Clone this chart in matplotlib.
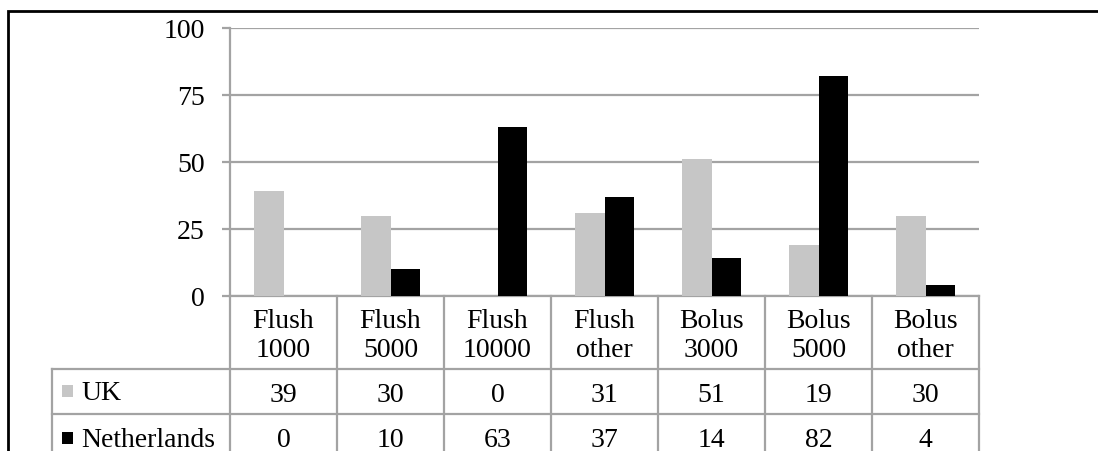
import matplotlib
matplotlib.use('Agg')
import matplotlib.pyplot as plt
import matplotlib.transforms as mtransforms
from matplotlib.lines import Line2D
from matplotlib.patches import Rectangle
import numpy as np

plt.rcParams['font.family'] = ['Liberation Serif', 'DejaVu Serif']

# data
categories = ['Flush\n1000', 'Flush\n5000', 'Flush\n10000', 'Flush\nother',
              'Bolus\n3000', 'Bolus\n5000', 'Bolus\nother']
series_names = ['UK', 'Netherlands']
uk_values = [39, 30, 0, 31, 51, 19, 30]
nl_values = [0, 10, 63, 37, 14, 82, 4]
y_ticks = [0, 25, 50, 75, 100]

W, H = 1098, 452
UK_COLOR = '#c6c6c6'
NL_COLOR = '#000000'
GRID = '#a3a3a3'
FS = 20

fig = plt.figure(figsize=(W / 100, H / 100), dpi=100)
fig.patch.set_facecolor('white')

def fy(px):
    return 1 - px / H

def fx(px):
    return px / W

# plot area in pixels
left, right, top, bottom = 230, 979, 29, 297
ax = fig.add_axes([fx(left), fy(bottom), (right - left) / W, (bottom - top) / H])

x = np.arange(len(categories))
bw = 0.28
ax.bar(x - bw / 2, uk_values, bw, color=UK_COLOR, zorder=3)
ax.bar(x + bw / 2, nl_values, bw, color=NL_COLOR, zorder=3)

ax.set_xlim(-0.5, len(categories) - 0.5)
ax.set_ylim(0, 100)
ax.set_yticks(y_ticks)
ax.set_yticklabels([str(t) for t in y_ticks], fontsize=FS)
ax.set_xticks([])
ax.yaxis.grid(True, color=GRID, linewidth=1.6, zorder=0)
ax.set_axisbelow(True)
for s in ['top', 'right']:
    ax.spines[s].set_visible(False)
ax.spines['left'].set_color(GRID)
ax.spines['left'].set_linewidth(1.6)
ax.spines['bottom'].set_color(GRID)
ax.spines['bottom'].set_linewidth(1.6)
ax.tick_params(axis='y', length=6, width=1.6, color=GRID, pad=12)

# data table below the plot
tr = mtransforms.blended_transform_factory(ax.transData, fig.transFigure)
row1, row2, row3 = 370, 415, 470
hdr_left = 52

def fline(xs, ys, transform):
    fig.add_artist(Line2D(xs, ys, color=GRID, linewidth=1.6, transform=transform,
                          clip_on=False))

for k in range(len(categories) + 1):
    xb = k - 0.5
    fline([xb, xb], [fy(bottom), fy(row3)], tr)
for yr in (row1, row2):
    fline([fx(hdr_left), fx(right)], [fy(yr), fy(yr)], fig.transFigure)
fline([fx(hdr_left), fx(hdr_left)], [fy(row1), fy(row3)], fig.transFigure)

for i, cat in enumerate(categories):
    fig.text(x[i], fy(336), cat, transform=tr, ha='center',
             va='center', fontsize=FS, linespacing=1.2)
    fig.text(x[i], fy(396), str(uk_values[i]), transform=tr, ha='center',
             va='center', fontsize=FS)
    fig.text(x[i], fy(441), str(nl_values[i]), transform=tr, ha='center',
             va='center', fontsize=FS)

# legend keys in header column
for name, col, ycen in [(series_names[0], UK_COLOR, 392),
                        (series_names[1], NL_COLOR, 439)]:
    fig.add_artist(Rectangle((fx(62), fy(ycen + 6)), fx(11), 12 / H,
                             facecolor=col, edgecolor='none',
                             transform=fig.transFigure))
    fig.text(fx(81), fy(ycen + 2), name, ha='left', va='center', fontsize=FS)

# outer frame (cropped on right and bottom)
fig.add_artist(Rectangle((fx(8), -0.2), 1.2, fy(12) + 0.2, fill=False,
                         edgecolor='black', linewidth=2,
                         transform=fig.transFigure, clip_on=False))

fig.savefig('out.png', dpi=100)
